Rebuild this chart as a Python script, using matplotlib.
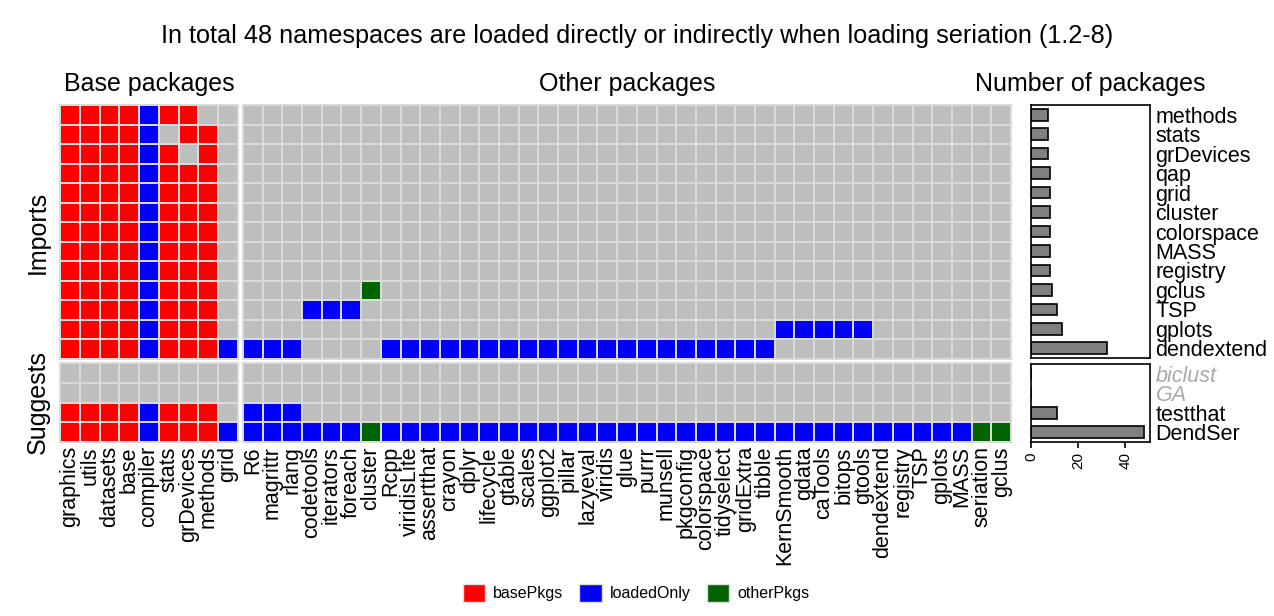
import numpy as np
import matplotlib
matplotlib.use("Agg")
import matplotlib.pyplot as plt
from matplotlib.colors import ListedColormap
from matplotlib.patches import Patch

plt.rcParams["font.family"] = ["Liberation Sans", "DejaVu Sans"]

# Columns
base_pkgs = ["graphics", "utils", "datasets", "base", "compiler", "stats",
             "grDevices", "methods", "grid"]
other_pkgs = ["R6", "magrittr", "rlang", "codetools", "iterators", "foreach",
              "cluster", "Rcpp", "viridisLite", "assertthat", "crayon", "dplyr",
              "lifecycle", "gtable", "scales", "ggplot2", "pillar", "lazyeval",
              "viridis", "glue", "purrr", "munsell", "pkgconfig", "colorspace",
              "tidyselect", "gridExtra", "tibble", "KernSmooth", "gdata",
              "caTools", "bitops", "gtools", "dendextend", "registry", "TSP",
              "gplots", "MASS", "seriation", "gclus"]
loaded_only_base = ["compiler", "grid"]       # base cols that are loadedOnly
attached_other = ["cluster", "seriation", "gclus"]  # other cols that are otherPkgs

# Rows
imports = ["methods", "stats", "grDevices", "qap", "grid", "cluster",
           "colorspace", "MASS", "registry", "gclus", "TSP", "gplots", "dendextend"]
suggests = ["biclust", "GA", "testthat", "DendSer"]
not_installed = ["biclust", "GA"]

# which base packages each row loads (column order of base_pkgs)
imports_base = ["111111100", "111110110", "111111010", "111111110", "111111110",
                "111111110", "111111110", "111111110", "111111110", "111111110",
                "111111110", "111111110", "111111111"]
suggests_base = ["000000000", "000000000", "111111110", "111111111"]

tidy_chain = ["Rcpp", "viridisLite", "assertthat", "crayon", "dplyr", "lifecycle",
              "gtable", "scales", "ggplot2", "pillar", "lazyeval", "viridis", "glue",
              "purrr", "munsell", "pkgconfig", "colorspace", "tidyselect",
              "gridExtra", "tibble"]
imports_other = [[], [], [], [], [], [], [], [], [],
                 ["cluster"],
                 ["codetools", "iterators", "foreach"],
                 ["KernSmooth", "gdata", "caTools", "bitops", "gtools"],
                 ["R6", "magrittr", "rlang"] + tidy_chain]
suggests_other = [[], [], ["R6", "magrittr", "rlang"], other_pkgs]

# number of packages per row (bar chart)
imports_n = [7, 7, 7, 8, 8, 8, 8, 8, 8, 9, 11, 13, 32]
suggests_n = [0, 0, 11, 48]

colors = ["#bebebe", "#ff0000", "#0000ff", "#006400"]
type_names = ["basePkgs", "loadedOnly", "otherPkgs"]


def base_matrix(masks):
    codes = [2 if p in loaded_only_base else 1 for p in base_pkgs]
    return np.array([[c if m == "1" else 0 for m, c in zip(row, codes)]
                     for row in masks])


def other_matrix(rows):
    codes = [3 if p in attached_other else 2 for p in other_pkgs]
    return np.array([[c if p in row else 0 for p, c in zip(other_pkgs, codes)]
                     for row in rows])


W, H = 1274, 616
fig = plt.figure(figsize=(W / 100, H / 100), dpi=100)


def px_axes(l, t, r, b):
    return fig.add_axes([l / W, 1 - b / H, (r - l) / W, (b - t) / H])


cmap = ListedColormap(colors)
edge = "#dadada"


def tiles(ax, M, labels=None):
    nr, nc = M.shape
    ax.pcolormesh(np.arange(nc + 1), np.arange(nr + 1), M, cmap=cmap,
                  vmin=-0.5, vmax=3.5, edgecolors=edge, linewidth=1.4)
    ax.set_xlim(0, nc)
    ax.set_ylim(nr, 0)
    ax.set_yticks([])
    for s in ax.spines.values():
        s.set_color(edge)
        s.set_linewidth(1.4)
    if labels is None:
        ax.set_xticks([])
    else:
        ax.set_xticks(np.arange(nc) + 0.5)
        ax.set_xticklabels(labels, rotation=90, fontsize=15.5)
        ax.tick_params(axis="x", length=0, pad=3)


tiles(px_axes(60, 105, 238, 359), base_matrix(imports_base))
tiles(px_axes(60, 363, 238, 442), base_matrix(suggests_base), base_pkgs)
tiles(px_axes(243, 105, 1011, 359), other_matrix(imports_other))
tiles(px_axes(243, 363, 1011, 442), other_matrix(suggests_other), other_pkgs)


def bars(ax, names, vals, bottom):
    y = np.arange(len(vals))
    ax.barh(y, vals, height=0.6, color="#808080", edgecolor="black", linewidth=1.2)
    ax.set_xlim(0, 50.4)
    ax.set_ylim(len(vals) - 0.5, -0.5)
    ax.yaxis.tick_right()
    ax.set_yticks(y)
    ax.set_yticklabels(names, fontsize=15.5)
    ax.tick_params(axis="y", length=0, pad=4)
    for lab in ax.get_yticklabels():
        if lab.get_text() in not_installed:
            lab.set_color("#aaaaaa")
            lab.set_style("italic")
    for s in ax.spines.values():
        s.set_linewidth(1.2)
    if bottom:
        ax.set_xticks([0, 20, 40])
        ax.tick_params(axis="x", labelrotation=90, labelsize=11, length=4, width=1.2)
    else:
        ax.set_xticks([])


bars(px_axes(1031, 105, 1150, 358), imports, imports_n, False)
bars(px_axes(1031, 364, 1150, 442), suggests, suggests_n, True)

fig.text(637 / W, 1 - 42.7 / H,
         "In total 48 namespaces are loaded directly or indirectly when loading seriation (1.2-8)",
         ha="center", va="baseline", fontsize=18.2)
fig.text(149 / W, 1 - 91 / H, "Base packages", ha="center", va="baseline", fontsize=18)
fig.text(627 / W, 1 - 91 / H, "Other packages", ha="center", va="baseline", fontsize=18)
fig.text(1090 / W, 1 - 91 / H, "Number of packages", ha="center", va="baseline", fontsize=18)
fig.text(38 / W, 1 - 232 / H, "Imports", rotation=90, ha="center", va="center", fontsize=18)
fig.text(38 / W, 1 - 402 / H, "Suggests", rotation=90, ha="center", va="center", fontsize=18)

handles = [Patch(facecolor=c, edgecolor="#dddddd", label=n)
           for c, n in zip(colors[1:], type_names)]
fig.legend(handles=handles, loc="center", bbox_to_anchor=(636 / W, 1 - 593 / H),
           ncol=3, frameon=False, fontsize=11.5, handlelength=1.4,
           handleheight=1.3, handletextpad=0.5, columnspacing=1.0)

fig.savefig("out.png", dpi=100)
